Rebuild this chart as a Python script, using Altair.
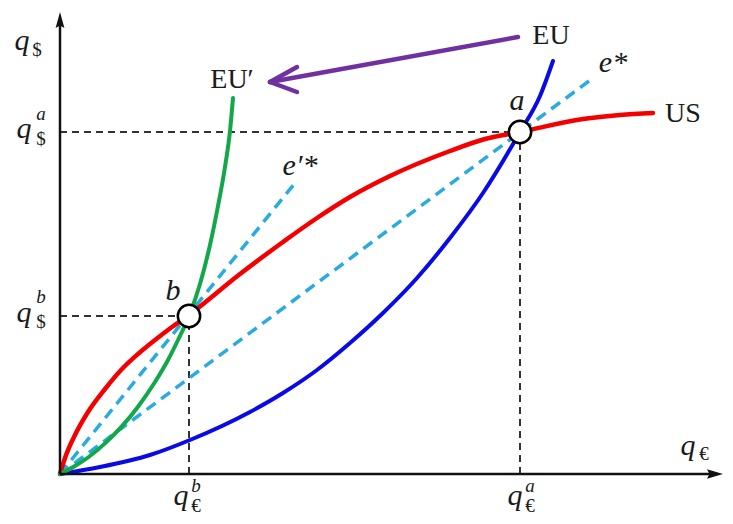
import altair as alt
import pandas as pd

FONT = "Liberation Serif"
INK = "#1a1a1a"

# ---- curves (data units: x = quantity of euros, y = quantity of dollars) ----
us_x = [0, 5, 15, 28, 45, 62, 78, 95, 112, 129, 180, 223, 257, 290, 330, 390, 425, 460, 523, 560, 593]
us_y = [0, 16, 39, 62, 85, 105, 120, 134, 147, 159, 200, 232, 256, 277, 298, 323, 335, 342, 355, 359, 361]

eu_x = [0, 40, 90, 130, 190, 223, 257, 290, 323, 357, 390, 423, 460, 480, 493]
eu_y = [0, 7, 19, 34, 62, 81, 104, 131, 161, 196, 236, 281, 342, 378, 413]

eup_x = [0, 15, 28, 45, 62, 78, 95, 108, 118, 129, 140, 150, 158, 165, 170, 173]
eup_y = [0, 8, 16.5, 30.6, 47.8, 67.3, 92, 114, 134, 158, 190, 229, 268, 307, 343, 376]

# rays e* and e'*
estar_x = [0, 533]
estar_y = [0, 396]
eprime_x = [0, 235]
eprime_y = [0, 291]

# equilibrium points
a_point = (460, 342)
b_point = (129, 158)

# axis extent
x_max = 663
y_max = 462

# purple arrow (tail, tip, barbs)
arrow_tail = (458, 437)
arrow_tip = (210, 392)
arrow_barbs = [(237, 407), (237, 382)]

# ---- labels ----
plain_labels = pd.DataFrame({"t": ["EU", "EU′", "US"], "x": [491, 172, 623], "y": [430, 386, 352]})
italic_labels = pd.DataFrame({"t": ["a", "b", "e*", "e′*"], "x": [457, 113, 553, 240], "y": [364, 174, 402, 299]})
q_labels = pd.DataFrame({"t": ["q"] * 6, "x": [-38, -36, -36, 121, 455, 628], "y": [424, 336, 152, -31, -31, 19]})
sup_labels = pd.DataFrame({"t": ["a", "b", "b", "a"], "x": [-19, -19, 136, 470], "y": [354, 171, -18, -18]})
sub_labels = pd.DataFrame({"t": ["$", "$", "$", "€", "€", "€"], "x": [-23, -19, -19, 136, 470, 644], "y": [418, 329, 146, -38, -38, 14]})

X = alt.X("x:Q", scale=alt.Scale(domain=[0, x_max], nice=False, zero=False), axis=None)
Y = alt.Y("y:Q", scale=alt.Scale(domain=[0, y_max], nice=False, zero=False), axis=None)


def line_df(xs, ys):
    return pd.DataFrame({"x": xs, "y": ys, "i": list(range(len(xs)))})


def curve(xs, ys, color, width, dash=None):
    kw = dict(color=color, strokeWidth=width, interpolate="monotone", strokeCap="round")
    if dash:
        kw["strokeDash"] = dash
        kw["strokeCap"] = "butt"
    return alt.Chart(line_df(xs, ys)).mark_line(**kw).encode(x=X, y=Y, order="i:Q")


def segs(rows, **kw):
    df = pd.DataFrame(rows, columns=["x", "y", "x2", "y2"])
    return alt.Chart(df).mark_rule(**kw).encode(x=X, y=Y, x2="x2:Q", y2="y2:Q")


def texts(df, size, italic=False):
    kw = dict(font=FONT, fontSize=size, align="center", baseline="alphabetic", color=INK)
    if italic:
        kw["fontStyle"] = "italic"
    return alt.Chart(df).mark_text(**kw).encode(x=X, y=Y, text="t:N")


ax, ay = a_point
bx, by = b_point

guides = segs(
    [(0, ay, ax, ay), (ax, 0, ax, ay), (0, by, bx, by), (bx, 0, bx, by)],
    color="#333333", strokeWidth=2, strokeDash=[7, 5],
)

axes = segs([(0, 0, 0, y_max - 8), (0, 0, x_max - 8, 0)], color="#111111", strokeWidth=2.5)

up_head = alt.Chart(pd.DataFrame({"x": [0], "y": [y_max]})).mark_point(
    shape="M0,0 L-0.55,2 L0,1.7 L0.55,2 Z", size=256, filled=True, color="#111111", opacity=1, strokeWidth=0
).encode(x=X, y=Y)
right_head = alt.Chart(pd.DataFrame({"x": [x_max], "y": [0]})).mark_point(
    shape="M0,0 L-2,-0.6 L-1.7,0 L-2,0.6 Z", size=256, filled=True, color="#111111", opacity=1, strokeWidth=0
).encode(x=X, y=Y)

purple = "#7030a0"
arrow = segs(
    [(arrow_tail[0], arrow_tail[1], arrow_tip[0], arrow_tip[1])]
    + [(arrow_tip[0], arrow_tip[1], bx_, by_) for bx_, by_ in arrow_barbs],
    color=purple, strokeWidth=4.5, strokeCap="round",
)

points = alt.Chart(pd.DataFrame({"x": [ax, bx], "y": [ay, by]})).mark_point(
    shape="circle", size=500, fill="white", stroke="black", strokeWidth=2.5, opacity=1, fillOpacity=1
).encode(x=X, y=Y)

chart = alt.layer(
    guides,
    curve(estar_x, estar_y, "#29abe2", 3.5, [11, 7]),
    curve(eprime_x, eprime_y, "#29abe2", 3.5, [11, 7]),
    curve(us_x, us_y, "#f40000", 4.5),
    curve(eu_x, eu_y, "#0a0ae6", 4),
    curve(eup_x, eup_y, "#12a84a", 4),
    axes,
    up_head,
    right_head,
    arrow,
    points,
    texts(plain_labels, 28),
    texts(italic_labels, 30, italic=True),
    texts(q_labels, 30, italic=True),
    texts(sup_labels, 19, italic=True),
    texts(sub_labels, 19),
).properties(
    width=663,
    height=462,
    autosize=alt.AutoSizeParams(type="none"),
    padding={"left": 52, "top": 4, "right": 0, "bottom": 42},
    background="white",
).configure_view(stroke=None)

chart.save("out.html", embed_options={"renderer": "svg", "actions": False})
